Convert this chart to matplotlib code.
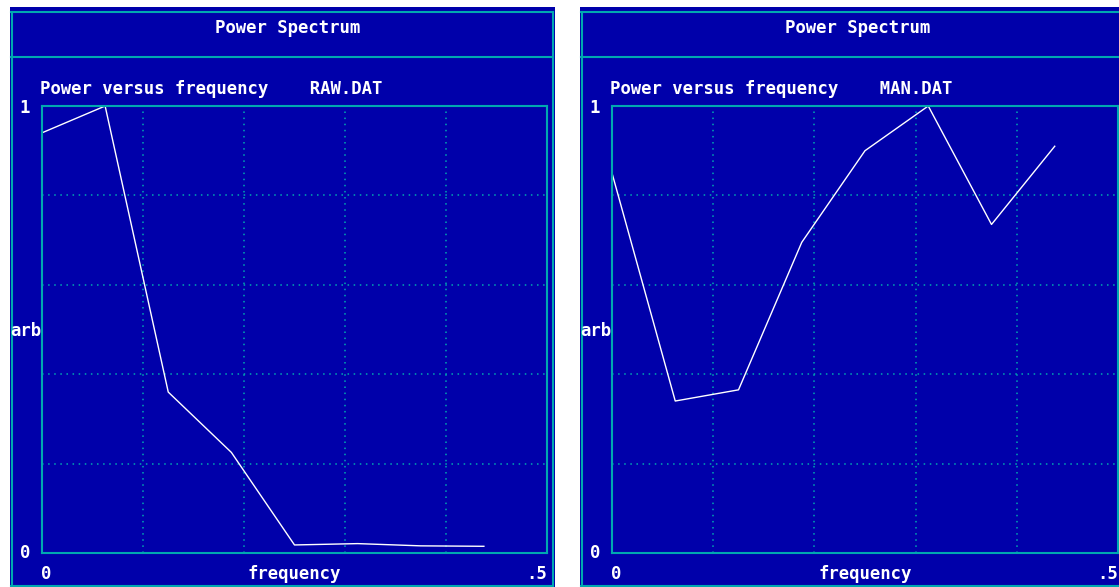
import numpy as np
import matplotlib
matplotlib.use("Agg")
import matplotlib.pyplot as plt
from matplotlib.patches import Rectangle
from matplotlib.lines import Line2D

# data
freq = [0.0, 0.0625, 0.125, 0.1875, 0.25, 0.3125, 0.375, 0.4375]
raw_power = [0.94, 1.0, 0.36, 0.225, 0.018, 0.021, 0.016, 0.015]
man_power = [0.85, 0.34, 0.365, 0.695, 0.90, 1.0, 0.735, 0.91]
files = ["RAW.DAT", "MAN.DAT"]
xlabels = ["0", ".5"]

W, H = 1119, 587
BLUE = "#0000AA"
CYAN = "#00A8B0"
WHITE = "#FFFFFF"

plt.rcParams['font.family'] = ['DejaVu Sans Mono']
fig = plt.figure(figsize=(W / 100, H / 100), dpi=100)
fig.patch.set_facecolor("white")


def fx(px):
    return px / W


def fy(py):
    return 1 - py / H


def hline(x0, x1, y, lw=1.5):
    fig.add_artist(Line2D([fx(x0), fx(x1)], [fy(y), fy(y)], color=CYAN, lw=lw,
                          transform=fig.transFigure))


def vline(x, y0, y1, lw=1.5):
    fig.add_artist(Line2D([fx(x), fx(x)], [fy(y0), fy(y1)], color=CYAN, lw=lw,
                          transform=fig.transFigure))


def txt(px, py, s, ha="left"):
    fig.text(fx(px), fy(py), s, color=WHITE, fontsize=12.4, fontweight="bold",
             ha=ha, va="center")


panels = [
    # blue left, axes left, axes right
    (10, 42, 547, raw_power, files[0]),
    (580, 612, 1118, man_power, files[1]),
]

for bx, ax0, ax1, power, name in panels:
    pw = 545
    fig.add_artist(Rectangle((fx(bx), fy(587)), fx(pw), 580 / H, facecolor=BLUE,
                             edgecolor="none", transform=fig.transFigure, zorder=0))
    hline(bx + 1, bx + pw - 2, 11.5)
    hline(bx + 1, bx + pw - 2, 57)
    hline(bx + 1, bx + pw - 2, 585.5)
    vline(bx + 1.5, 11.5, 585.5)
    vline(bx + pw - 2, 11.5, 585.5)

    ax = fig.add_axes([fx(ax0), fy(553), fx(ax1 - ax0), (553 - 106) / H])
    ax.set_facecolor(BLUE)
    ax.plot(freq, power, color=WHITE, lw=1.0)
    ax.set_xlim(0, 0.5)
    ax.set_ylim(0, 1)
    ax.set_xticks(np.linspace(0, 0.5, 6))
    ax.set_yticks(np.linspace(0, 1, 6))
    ax.tick_params(length=0, labelleft=False, labelbottom=False)
    ax.grid(True, color=CYAN, ls=(0, (1, 3)), lw=1.1)
    for sp in ax.spines.values():
        sp.set_color(CYAN)
        sp.set_linewidth(1.5)

    txt(bx + 278, 28, "Power Spectrum", ha="center")
    txt(ax0 - 2, 89, "Power versus frequency    " + name)
    txt(ax0 - 17, 108, "1", ha="center")
    txt(ax0 - 17, 553, "0", ha="center")
    txt(ax0 - 32, 331, "arb")
    txt(ax0 + 4, 574, xlabels[0], ha="center")
    txt((ax0 + ax1) / 2, 574, "frequency", ha="center")
    txt(ax1, 574, xlabels[1], ha="right")

fig.savefig("out.png", dpi=100, facecolor=fig.get_facecolor())
